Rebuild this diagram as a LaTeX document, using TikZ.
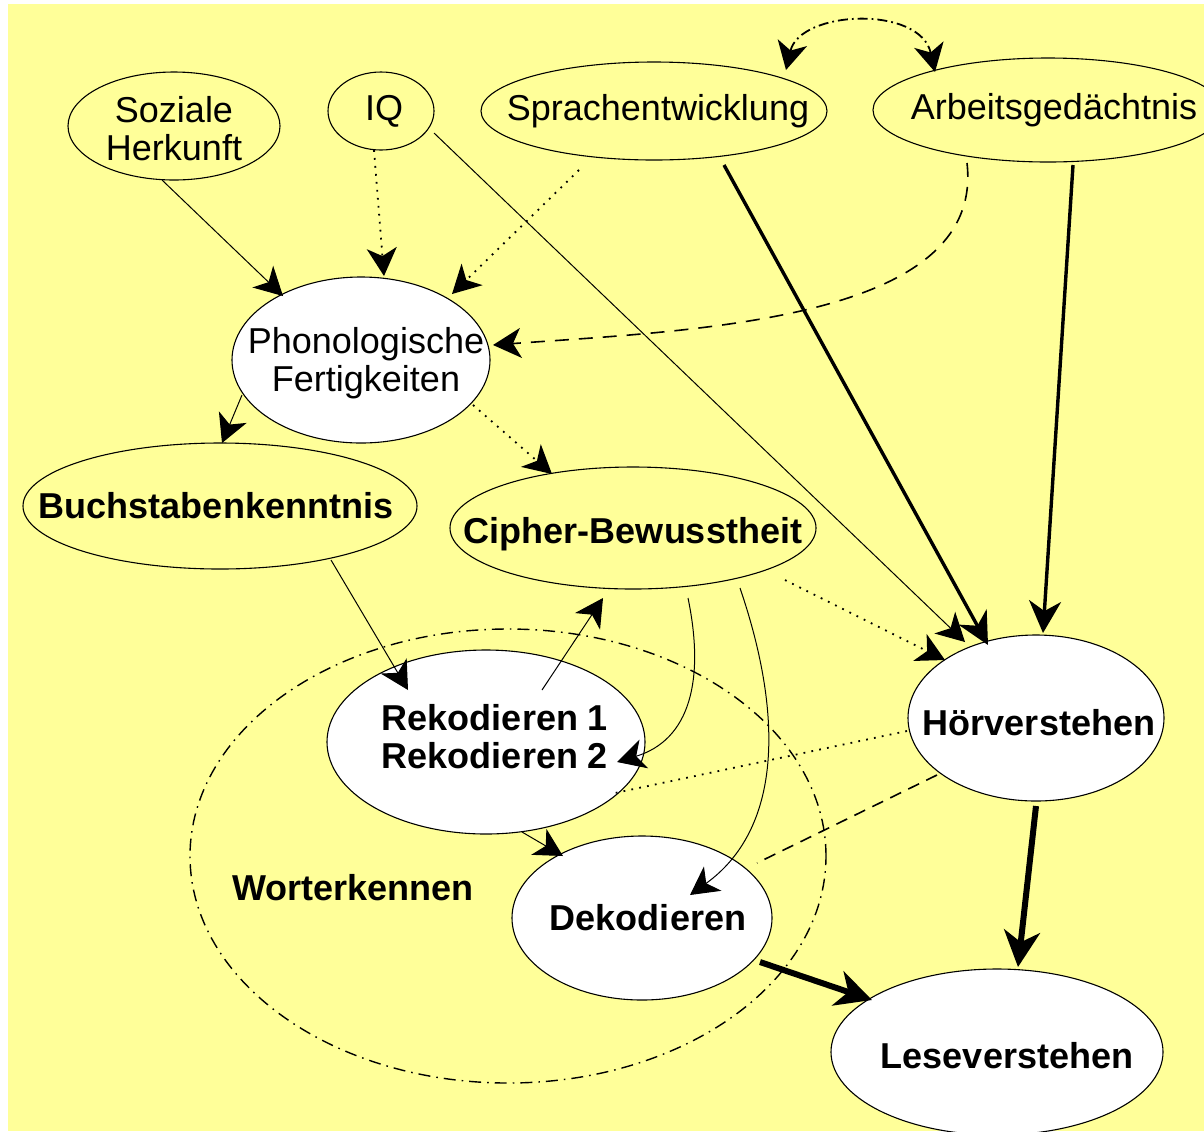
\documentclass[tikz,border=0pt]{standalone}
\usepackage{fontspec}
\setmainfont{Liberation Sans}
\usetikzlibrary{shapes.geometric,arrows.meta,calc}
\definecolor{bgyellow}{RGB}{255,255,153}
\begin{document}
\begin{tikzpicture}[x=0.5pt,y=-0.5pt,
  bub/.style={ellipse, draw, line width=0.55pt, inner sep=0pt},
  wbub/.style={bub, fill=white},
  txt/.style={font=\fontsize{18}{19}\selectfont, align=center, inner sep=0pt},
  btxt/.style={font=\fontsize{18}{19}\selectfont\bfseries, align=center, inner sep=0pt},
  thinhead/.style={-{Stealth[length=14pt,width=15pt,inset=4pt]}},
  thinarr/.style={line width=0.5pt, thinhead},
  medarr/.style={line width=1.7pt, -{Stealth[length=16pt,width=16pt,inset=5pt]}},
  thickarr/.style={line width=3pt, -{Stealth[length=18pt,width=18pt,inset=5.5pt]}},
  dotline/.style={line width=0.9pt, dash pattern=on 0.9pt off 3.1pt},
  dashline/.style={line width=0.8pt, dash pattern=on 7pt off 5pt},
  dashdot/.style={line width=0.9pt, dash pattern=on 5pt off 2pt on 0.9pt off 2pt}
]
\useasboundingbox (0,0) rectangle (1204,1131);
\clip (0,0) rectangle (1204,1131);
\fill[white] (0,0) rectangle (1204,1131);
\fill[bgyellow] (8,4) rectangle (1204,1131);

% group ellipse
\node[ellipse, draw, line width=0.7pt, dash pattern=on 6pt off 3pt on 0.8pt off 3pt,
      minimum width=318pt, minimum height=227pt, inner sep=0pt] (wk) at (508,856) {};
\node[btxt] (wkl) at (353,888) {Worterkennen};

% nodes
\node[bub, minimum width=106pt, minimum height=54pt,
      label={[txt, yshift=-1.5pt]center:{Soziale\\Herkunft}}] (sh) at (174,126) {};
\node[bub, minimum width=53pt, minimum height=39pt,
      label={[txt, xshift=1.5pt]center:{IQ}}] (iq) at (381,111) {};
\node[bub, minimum width=173pt, minimum height=49pt,
      label={[txt, xshift=2pt]center:{Sprachentwicklung}}] (sp) at (654,111) {};
\node[bub, minimum width=175pt, minimum height=52pt,
      label={[txt, xshift=3pt]center:{Arbeitsgedächtnis}}] (ar) at (1048,110) {};
\node[wbub, minimum width=129pt, minimum height=83pt,
      label={[txt, xshift=2.5pt, yshift=-1.5pt]center:{Phonologische\\Fertigkeiten}}] (ph) at (361,360) {};
\node[bub, minimum width=197pt, minimum height=63pt,
      label={[btxt, xshift=-2pt]center:{Buchstabenkenntnis}}] (bk) at (220,506) {};
\node[bub, minimum width=183pt, minimum height=61pt,
      label={[btxt, yshift=-3pt]center:{Cipher-Bewusstheit}}] (cb) at (633,528) {};
\node[wbub, minimum width=159pt, minimum height=92pt,
      label={[btxt, align=left, xshift=4.5pt, yshift=2.5pt]center:{Rekodieren 1\\Rekodieren 2}}] (rk) at (486,742) {};
\node[wbub, minimum width=130pt, minimum height=82pt,
      label={[btxt, xshift=3pt]center:{Dekodieren}}] (dk) at (642,918) {};
\node[wbub, minimum width=128pt, minimum height=83pt,
      label={[btxt, xshift=1.5pt, yshift=-2.5pt]center:{Hörverstehen}}] (hv) at (1036,718) {};
\node[wbub, minimum width=166pt, minimum height=83pt,
      label={[btxt, xshift=5pt, yshift=-2pt]center:{Leseverstehen}}] (lv) at (997,1052) {};

% connectors
\draw[thinarr] ($(sh)+(-12,54)$) -- ($(ph)+(-78,-64)$);
\draw[dotline, thinhead] ($(iq)+(-7,39)$) -- ($(ph)+(23,-84)$);
\draw[dotline, thinhead] ($(sp)+(-75,59)$) -- ($(ph)+(91,-66)$);
\draw[dashline, thinhead] ($(ar)+(-81,53)$) .. controls ($(ar)+(-63,210)$) and ($(ph)+(339,-30)$) .. ($(ph)+(132,-15)$);
\draw[medarr] ($(ar)+(25,55)$) -- ($(hv)+(7,-85)$);
\draw[medarr] ($(sp)+(70,54)$) -- ($(hv)+(-48,-73)$);
\draw[thinarr] ($(iq)+(53,22)$) -- ($(hv)+(-71,-76)$);
\draw[dotline, thinhead] ($(cb)+(152,52)$) -- ($(hv)+(-91,-58)$);
\draw[thinarr] ($(ph)+(-119,35)$) -- ($(bk)+(2,-63)$);
\draw[dotline, thinhead] ($(ph)+(112,45)$) -- ($(cb)+(-81,-54)$);
\draw[thinarr] ($(bk)+(111,54)$) -- ($(rk)+(-78,-52)$);
\draw[thinarr] ($(rk)+(56,-52)$) -- ($(cb)+(-30,70)$);
\draw[thinarr] ($(cb)+(55,70)$) .. controls ($(cb)+(72,152)$) and ($(rk)+(204,-2)$) .. ($(rk)+(131,20)$);
\draw[thinarr] ($(cb)+(107,60)$) .. controls ($(cb)+(152,192)$) and ($(dk)+(138,-88)$) .. ($(dk)+(48,-23)$);
\draw[dotline] ($(hv)+(-129,13)$) -- ($(rk)+(129,51)$);
\draw[line width=0.8pt, dash pattern=on 6pt off 4pt] ($(hv)+(-99,57)$) -- ($(dk)+(115,-55)$);
\draw[thinarr] ($(rk)+(36,90)$) -- ($(dk)+(-79,-62)$);
\draw[thickarr] ($(dk)+(118,44)$) -- ($(lv)+(-125,-52)$);
\draw[thickarr] ($(hv)+(0,88)$) -- ($(lv)+(21,-85)$);
\draw[dashdot, {Stealth[length=14pt,width=15pt,inset=4pt]}-{Stealth[length=14pt,width=15pt,inset=4pt]}]
  ($(sp)+(132,-41)$) .. controls ($(sp)+(146,-101)$) and ($(ar)+(-128,-105)$) .. ($(ar)+(-113,-38)$);
\end{tikzpicture}
\end{document}
